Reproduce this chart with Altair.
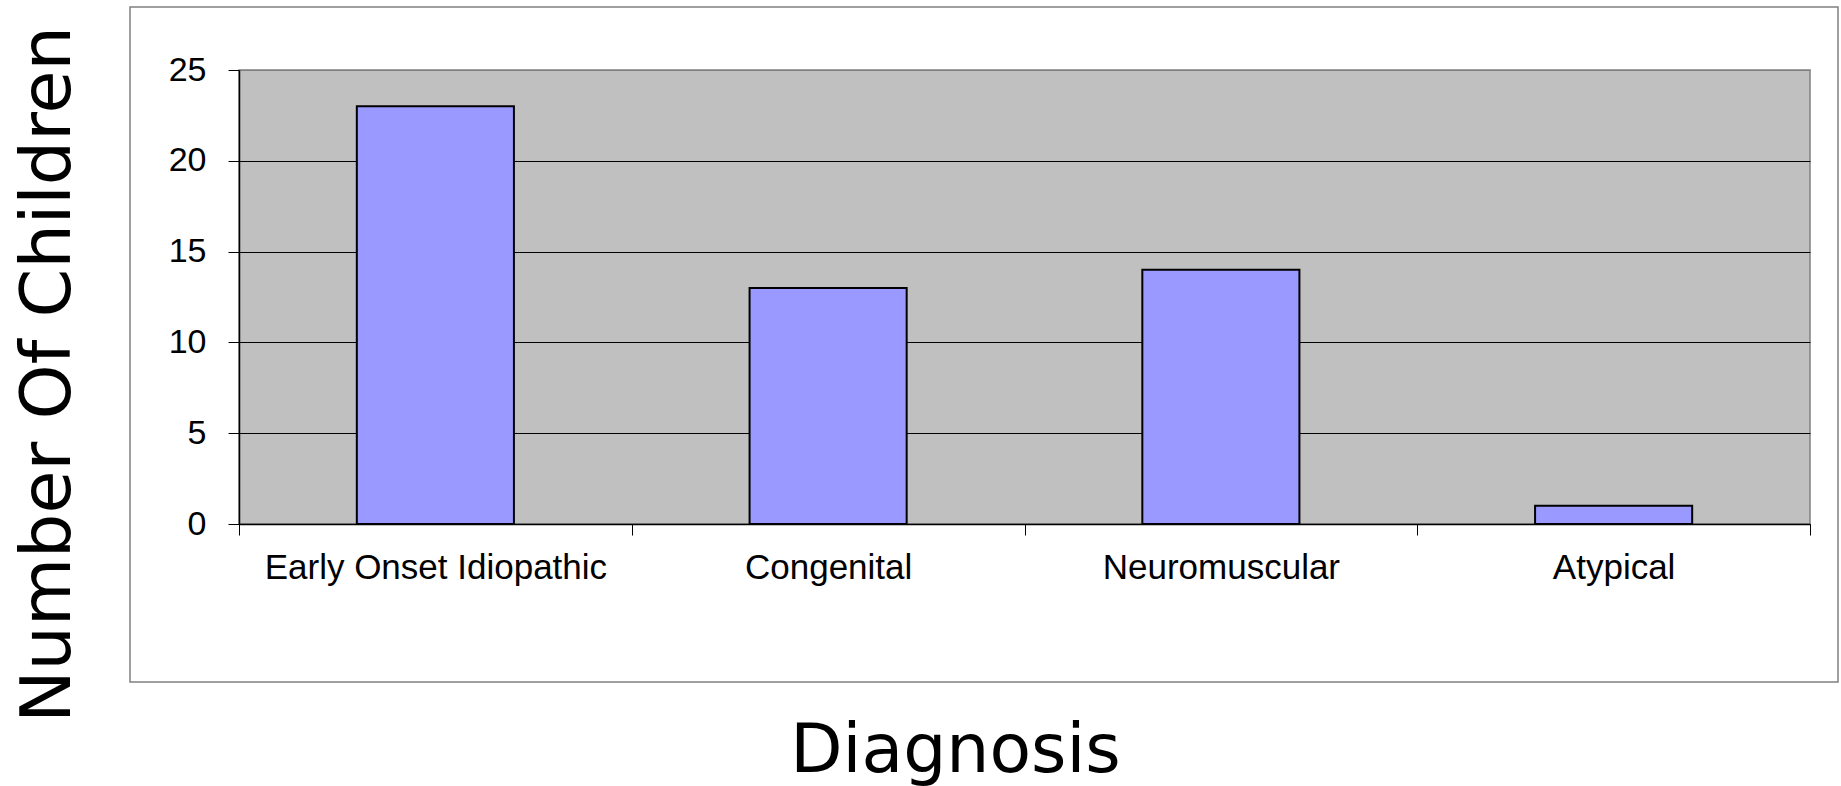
import altair as alt
import pandas as pd

# Diagnosis groups and number of children in each
diagnoses = ["Early Onset Idiopathic", "Congenital", "Neuromuscular", "Atypical"]
children = [23, 13, 14, 1]
y_ticks = [0, 5, 10, 15, 20, 25]

df = pd.DataFrame({"Diagnosis": diagnoses, "Children": children})

PLOT_W, PLOT_H = 1571, 454
LEFT, TOP = 239, 70

bars = alt.Chart(df).mark_bar(
    color="#9999FF", stroke="#000000", strokeWidth=2,
    width=alt.RelativeBandSize(0.4),
).encode(
    x=alt.X(
        "Diagnosis:N",
        sort=diagnoses,
        scale=alt.Scale(paddingInner=0, paddingOuter=0),
        axis=alt.Axis(
            title="Diagnosis",
            titleFont="DejaVu Sans",
            titleFontSize=68,
            titleFontWeight="normal",
            titleColor="#000000",
            titleAlign="center",
            titleBaseline="alphabetic",
            titleX=716,
            titleY=247,
            labelAngle=0,
            labelFont="Liberation Sans",
            labelFontSize=35,
            labelColor="#000000",
            labelPadding=15,
            labelLimit=0,
            tickSize=11,
            tickColor="#000000",
            tickBand="extent",
            domainColor="#000000",
            domainWidth=1.5,
            grid=False,
        ),
    ),
    y=alt.Y(
        "Children:Q",
        scale=alt.Scale(domain=[0, 25], nice=False),
        axis=alt.Axis(
            title="Number Of Children",
            titleFont="DejaVu Sans",
            titleFontSize=70,
            titleFontWeight="normal",
            titleColor="#000000",
            titleAngle=270,
            titleAlign="center",
            titleBaseline="alphabetic",
            titleX=-170,
            titleY=304,
            values=y_ticks,
            labelFont="Liberation Sans",
            labelFontSize=34,
            labelColor="#000000",
            labelPadding=22,
            tickSize=11,
            tickColor="#000000",
            domainColor="#000000",
            domainWidth=1.5,
            grid=True,
            gridColor={
                "condition": {"test": "datum.value === 25", "value": "#808080"},
                "value": "#000000",
            },
            gridWidth=1,
        ),
    ),
)

# Thin grey frame around the whole chart area
frame = alt.Chart(alt.Data(values=[{}])).mark_rect(
    fill=None, stroke="#808080", strokeWidth=1.5
).encode(
    x=alt.value(130 - LEFT),
    x2=alt.value(1838 - LEFT),
    y=alt.value(7 - TOP),
    y2=alt.value(682 - TOP),
)

chart = alt.layer(frame, bars).properties(
    width=PLOT_W,
    height=PLOT_H,
    autosize=alt.AutoSizeParams(type="none"),
    padding={"left": LEFT, "top": TOP, "right": 1841 - LEFT - PLOT_W, "bottom": 786 - TOP - PLOT_H},
    background="#FFFFFF",
).configure_view(
    fill="#C0C0C0", stroke="#808080", strokeWidth=1.5
)

chart.save("out.html", embed_options={"renderer": "svg", "actions": False})
